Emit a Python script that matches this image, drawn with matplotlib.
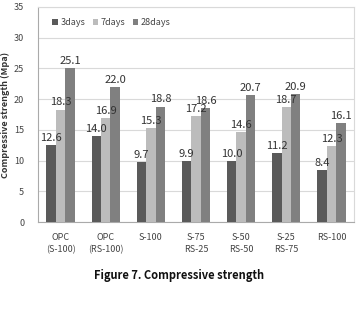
import matplotlib
matplotlib.use("Agg")
import matplotlib.pyplot as plt
import numpy as np

categories = ["OPC\n(S-100)", "OPC\n(RS-100)", "S-100", "S-75\nRS-25", "S-50\nRS-50", "S-25\nRS-75", "RS-100"]
series_names = ["3days", "7days", "28days"]
days3 = [12.6, 14.0, 9.7, 9.9, 10.0, 11.2, 8.4]
days7 = [18.3, 16.9, 15.3, 17.2, 14.6, 18.7, 12.3]
days28 = [25.1, 22.0, 18.8, 18.6, 20.7, 20.9, 16.1]
colors = ["#5a5a5a", "#bcbcbc", "#808080"]

plt.rcParams['font.family'] = ['Noto Sans CJK KR', 'DejaVu Sans']

fig = plt.figure(figsize=(3.59, 3.12), dpi=100)
ax = fig.add_axes([0.106, 0.288, 0.88, 0.69])

x = np.arange(len(categories))
w = 0.21
for i, (vals, name, c) in enumerate(zip([days3, days7, days28], series_names, colors)):
    xs = x + (i - 1) * w
    ax.bar(xs, vals, w, color=c, label=name, zorder=3)
    for xi, v in zip(xs, vals):
        ax.annotate(f"{v:.1f}", (xi, v), xytext=(0, 1.5), textcoords="offset points",
                    ha="center", va="bottom", fontsize=8, color="#333333", zorder=4)

ax.set_xlim(-0.5, len(categories) - 0.5)
ax.set_ylim(0, 35)
ax.set_yticks(range(0, 36, 5))
ax.yaxis.grid(True, color="#d9d9d9", linewidth=0.8, zorder=0)
ax.set_xticks(x)
ax.set_xticklabels(categories, fontsize=6.5, color="#444444", linespacing=1.4)
ax.tick_params(axis="y", labelsize=6.5, colors="#444444", length=0, pad=10)
ax.tick_params(axis="x", length=0, pad=8)
for s in ["top", "right"]:
    ax.spines[s].set_color("#d9d9d9")
for s in ["left", "bottom"]:
    ax.spines[s].set_color("#aaaaaa")
ax.set_ylabel("Compressive strength (Mpa)", fontsize=6.5, fontweight="bold", color="#333333", labelpad=3)

ax.legend(loc="upper left", bbox_to_anchor=(0.02, 0.985), ncol=3, frameon=False, fontsize=6.5,
          handlelength=0.6, handleheight=0.6, handletextpad=0.3, columnspacing=0.8,
          labelcolor="#444444")

fig.text(0.5, 1 - 275 / 312, "Figure 7. Compressive strength", ha="center", va="center",
         fontsize=8, fontweight="bold", color="#111111")

fig.savefig("out.png", dpi=100)
